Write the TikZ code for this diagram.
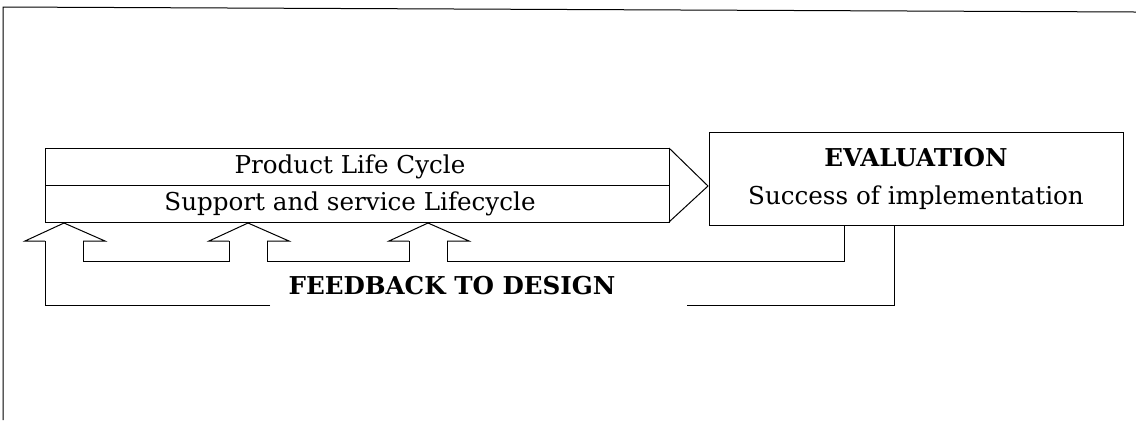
\documentclass[tikz,border=0pt]{standalone}
\usepackage{fontspec}
\setmainfont{DejaVu Serif}
\usepackage{tikz}
\usetikzlibrary{positioning}

\tikzset{
  band/.style={draw=black, line width=0.5pt, inner sep=0pt, outer sep=0pt, minimum width=312pt, minimum height=18.5pt},
  lbl/.style={font=\fontsize{12.3}{15}\selectfont},
  boldlbl/.style={font=\fontsize{12.3}{15}\selectfont\bfseries}
}

\begin{document}
\begin{tikzpicture}[x=0.5pt, y=-0.5pt]
\useasboundingbox (0,0) rectangle (1136,420);
% frame
\draw[black, line width=0.5pt](3,420)--(3,7)--(1136,12);

% life cycle band
\node[band] (plc) at (357,166.5) {};
\node[band, below=0pt of plc.south, anchor=north] (slc) {};
\node[lbl] (plctext) at (350,167) {Product Life Cycle};
\node[lbl] (slctext) at (350,204) {Support and service Lifecycle};
\coordinate (tip) at (708,186);
\draw[black, line width=0.5pt](plc.north east)--(tip)--(slc.south east);

% evaluation box
\node[draw=black, line width=0.5pt, minimum width=207pt, minimum height=46.5pt, align=center, inner sep=0pt] (eval) at (916,178.5)
  {{\fontsize{12.3}{15}\selectfont\bfseries EVALUATION}\\[7pt]{\fontsize{12.3}{15}\selectfont Success of implementation}};

% feedback
\node[boldlbl] (fb) at (452,286) {FEEDBACK TO DESIGN};
\foreach \t in {64,248,428}{
  \draw[black, line width=0.5pt](\t-19,241)--(\t-39,241)--(\t,223)--(\t+41,241)--(\t+19,241);
}
\coordinate (e1) at (844,225);
\coordinate (e2) at (894,225);
\draw[black, line width=0.5pt](83,241)--(83,261)--(229,261)--(229,241);
\draw[black, line width=0.5pt](267,241)--(267,261)--(409,261)--(409,241);
\draw[black, line width=0.5pt](447,241)--(447,261)--(e1 |- 0,261)--(e1);
\draw[black, line width=0.5pt](e2)--(e2 |- 0,305)--(687,305);
\draw[black, line width=0.5pt](270,305)--(45,305)--(45,241);
\end{tikzpicture}
\end{document}
